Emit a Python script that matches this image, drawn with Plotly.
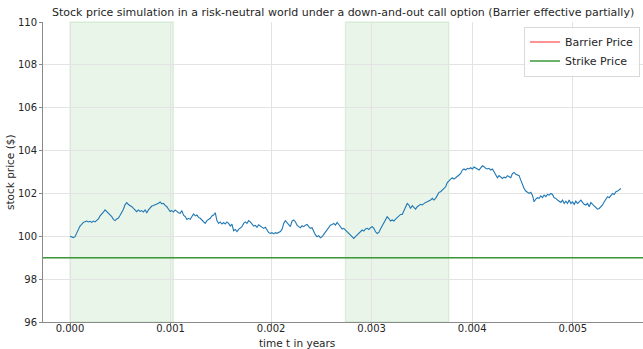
import numpy as np
import plotly.graph_objects as go

# Simulated stock path (2 trading days, uniform steps)
T_END = 2 / 365
prices = [
    100.00, 99.95, 99.94, 99.98, 100.17, 100.37, 100.48, 100.56, 100.65, 100.68,
    100.71, 100.67, 100.70, 100.65, 100.71, 100.67, 100.73, 100.81, 100.95, 101.07,
    101.13, 101.23, 101.16, 101.07, 100.99, 100.92, 100.79, 100.73, 100.81, 100.85,
    100.98, 101.10, 101.26, 101.48, 101.57, 101.48, 101.44, 101.38, 101.30, 101.20,
    101.15, 101.23, 101.16, 101.20, 101.13, 101.23, 101.10, 101.23, 101.32, 101.41,
    101.44, 101.46, 101.51, 101.54, 101.60, 101.51, 101.54, 101.44, 101.38, 101.26,
    101.16, 101.20, 101.13, 101.23, 101.16, 101.10, 101.07,
    # second stretch
    101.20, 100.99, 100.92, 100.79, 100.84, 100.79, 100.92, 101.04, 100.95, 100.99,
    100.88, 100.84, 100.76, 100.68, 100.60, 100.73, 100.79, 100.84, 100.95, 100.99,
    101.10, 100.73, 100.60, 100.67, 100.57, 100.64, 100.57, 100.67, 100.60, 100.48,
    100.57, 100.26, 100.32, 100.22, 100.32, 100.37, 100.45, 100.60, 100.67, 100.60,
    100.73, 100.67, 100.57, 100.48, 100.51, 100.42, 100.54, 100.48, 100.45, 100.37,
    100.42, 100.32, 100.17, 100.14, 100.17, 100.11, 100.17, 100.14, 100.17, 100.22,
    100.32, 100.60, 100.73, 100.64, 100.53, 100.45,
    # third stretch
    100.71, 100.76, 100.68, 100.52, 100.45, 100.40, 100.49, 100.45, 100.52, 100.55,
    100.45, 100.37, 100.40, 100.21, 100.06, 99.98, 100.03, 99.93, 99.98, 100.09,
    100.21, 100.29, 100.40, 100.52, 100.55, 100.60, 100.52, 100.65, 100.55, 100.45,
    100.34, 100.37, 100.29, 100.21, 100.09, 100.03, 99.93, 99.90, 99.98, 100.06,
    100.18, 100.21, 100.29, 100.24, 100.34, 100.37, 100.32, 100.40, 100.45, 100.37,
    100.21, 100.13, 100.18, 100.34, 100.49, 100.65, 100.80, 100.91, 100.83, 100.71,
    100.76, 100.71, 100.80, 100.87, 100.96, 101.02,
    # fourth stretch
    101.02, 101.18, 101.38, 101.53, 101.46, 101.30, 101.43, 101.33, 101.27, 101.38,
    101.43, 101.49, 101.46, 101.53, 101.58, 101.61, 101.64, 101.69, 101.77, 101.69,
    101.77, 101.92, 102.05, 102.08, 102.16, 102.23, 102.31, 102.51, 102.62, 102.67,
    102.73, 102.67, 102.73, 102.78, 102.86, 102.93, 103.09, 103.14, 103.09, 103.17,
    103.14, 103.20, 103.14, 103.23, 103.20, 103.14, 103.09, 103.17, 103.29, 103.25,
    103.17, 103.14, 103.17, 103.09, 103.14, 103.01, 102.86, 102.73, 102.83, 102.78,
    102.70, 102.76, 102.73, 102.83, 102.78, 102.73,
    # fifth stretch
    102.93, 102.98, 102.89, 102.86, 102.83, 102.62, 102.39, 102.23, 102.11, 102.05,
    102.00, 102.05, 101.92, 101.61, 101.74, 101.80, 101.77, 101.89, 101.80, 101.92,
    101.85, 101.95, 101.92, 102.00, 101.95, 101.80, 101.77, 101.69, 101.64, 101.58,
    101.69, 101.53, 101.64, 101.53, 101.69, 101.53, 101.61, 101.49, 101.64, 101.53,
    101.61, 101.69, 101.58, 101.49, 101.46, 101.53, 101.38, 101.58, 101.49, 101.43,
    101.33, 101.27, 101.30, 101.38, 101.46, 101.61, 101.77, 101.85, 101.80, 101.92,
    102.00, 101.95, 102.08, 102.11, 102.16, 102.23,
]
times = np.linspace(0, T_END, len(prices))

barrier_price = 99.0
strike_price = 99.0
# Periods (in years) during which the barrier is monitored
barrier_windows = [(0.0, 0.375 / 365), (1.0 / 365, 1.375 / 365)]

x_range = [-0.0002686, 0.005699]
y_range = [96, 110]
x_ticks = [0.000, 0.001, 0.002, 0.003, 0.004, 0.005]
x_tick_text = ["0.000", "0.001", "0.002", "0.003", "0.004", "0.005"]
y_ticks = [96, 98, 100, 102, 104, 106, 108, 110]

FONT = "DejaVu Sans"
TEXT = "#262626"
BARRIER_COLOR = "#ff6f6f"
STRIKE_COLOR = "#3a9a3a"

fig = go.Figure()

for start, end in barrier_windows:
    fig.add_shape(
        type="rect", xref="x", yref="y domain",
        x0=start, x1=end, y0=0, y1=1,
        fillcolor="rgba(44,160,44,0.1)",
        line=dict(color="rgba(44,160,44,0.12)", width=1.5),
        layer="below",
    )

fig.add_trace(go.Scatter(
    x=times, y=prices, mode="lines",
    line=dict(color="#1f77b4", width=1.1),
    showlegend=False,
))
# Barrier level (same value as the strike, so it sits under the strike line)
fig.add_trace(go.Scatter(
    x=x_range, y=[barrier_price, barrier_price], mode="lines",
    line=dict(color=BARRIER_COLOR, width=0.6),
    name="Barrier Price", legendgroup="barrier", showlegend=False,
))
fig.add_trace(go.Scatter(
    x=[None], y=[None], mode="lines",
    line=dict(color=BARRIER_COLOR, width=1.4),
    name="Barrier Price", legendgroup="barrier",
))
fig.add_trace(go.Scatter(
    x=x_range, y=[strike_price, strike_price], mode="lines",
    line=dict(color=STRIKE_COLOR, width=1.4),
    name="Strike Price",
))

fig.update_layout(
    width=643, height=349,
    margin=dict(l=43, r=0, t=22, b=27),
    paper_bgcolor="white", plot_bgcolor="white",
    font=dict(family=FONT, size=10, color=TEXT),
    showlegend=True,
    legend=dict(
        x=0.995, y=0.985, xanchor="right", yanchor="top",
        bgcolor="rgba(255,255,255,0.85)",
        bordercolor="#d9d9d9", borderwidth=1,
        font=dict(family=FONT, size=11, color=TEXT),
        itemwidth=30, tracegroupgap=0,
    ),
    annotations=[
        dict(
            text="Stock price simulation in a risk-neutral world under a down-and-out call option (Barrier effective partially)",
            xref="paper", yref="paper", x=0.5, y=1.0, xanchor="center", yanchor="bottom",
            yshift=1, showarrow=False, font=dict(family=FONT, size=11, color=TEXT),
        ),
        dict(
            text="time t in years", xref="paper", yref="paper", x=0.4225, y=0,
            xanchor="center", yanchor="top", yshift=-13, showarrow=False,
            font=dict(family=FONT, size=10.5, color=TEXT),
        ),
        dict(
            text="stock price ($)", xref="paper", yref="paper", x=0, y=0.5,
            xanchor="center", yanchor="middle", xshift=-33, textangle=-90,
            showarrow=False, font=dict(family=FONT, size=10.5, color=TEXT),
        ),
    ],
)

fig.update_xaxes(
    range=x_range, tickvals=x_ticks, ticktext=x_tick_text,
    showgrid=True, gridcolor="#e3e3e3", gridwidth=1,
    showline=True, linecolor="#8a8a8a", linewidth=1,
    ticks="outside", ticklen=3, tickcolor="#8a8a8a",
    ticklabelstandoff=-6,
    zeroline=False, tickfont=dict(family=FONT, size=10, color=TEXT),
)
fig.update_yaxes(
    range=y_range, tickvals=y_ticks,
    showgrid=True, gridcolor="#e3e3e3", gridwidth=1,
    showline=True, linecolor="#8a8a8a", linewidth=1,
    ticks="outside", ticklen=3, tickcolor="#8a8a8a",
    zeroline=False, tickfont=dict(family=FONT, size=10, color=TEXT),
)

fig.write_html("out.html")
